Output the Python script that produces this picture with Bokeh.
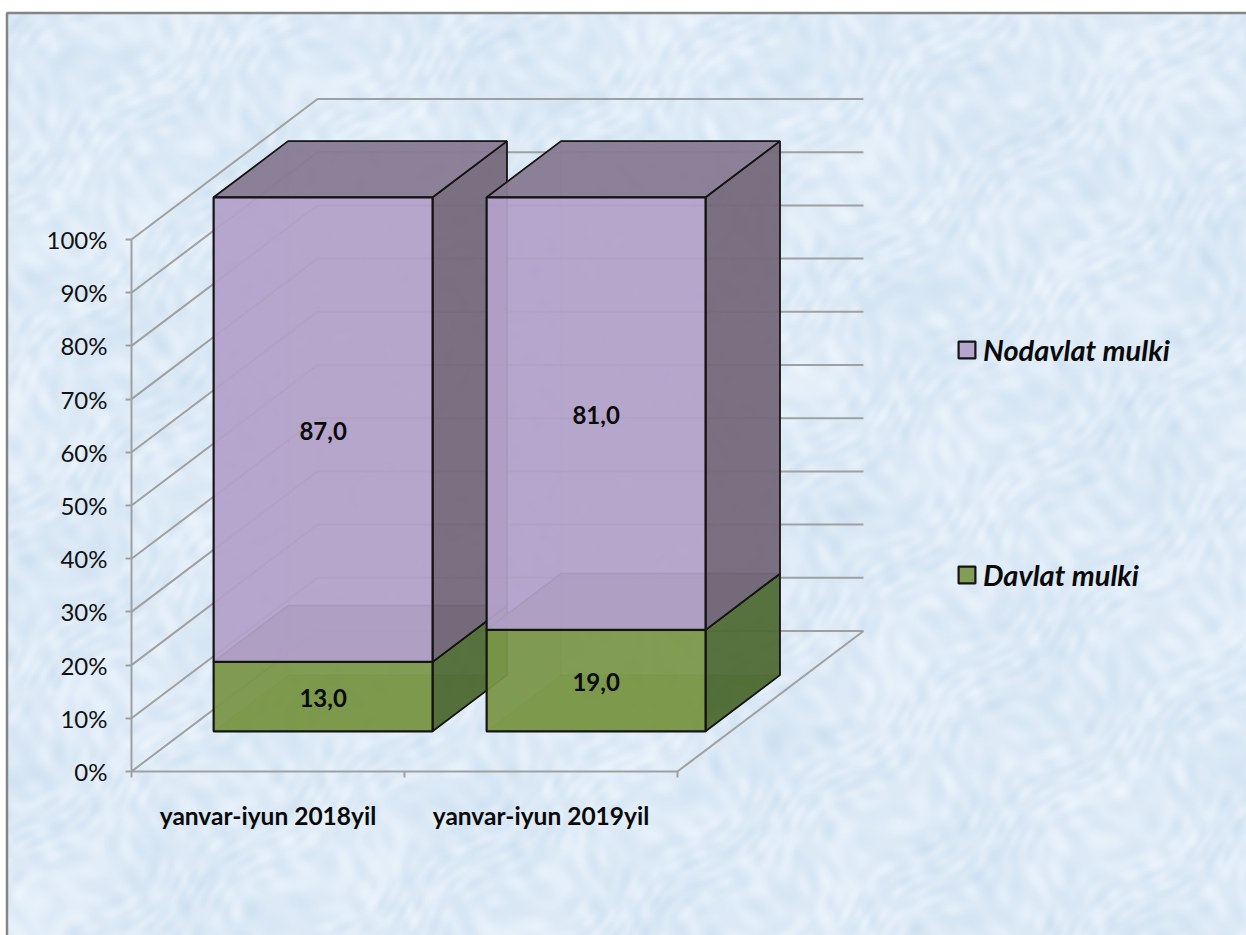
import numpy as np
from bokeh.plotting import figure
from bokeh.embed import file_html
from bokeh.resources import INLINE
from bokeh.core.properties import value
from bokeh.models import (LinearAxis, FixedTicker, PrintfTickFormatter, Range1d,
                          Legend, LegendItem)

# ---- data ----
categories = ["yanvar-iyun 2018yil", "yanvar-iyun 2019yil"]
davlat = [13.0, 19.0]
nodavlat = [87.0, 81.0]
series_names = ["Davlat mulki", "Nodavlat mulki"]
pct_ticks = list(range(0, 101, 10))

# ---- geometry of the 3-D look, in data units ----
W, H = 1246, 935
PX_CAT, PX_PCT = 273.0, 5.32          # pixels per category / per percent
X0, Y0 = 131.0, 771.0                 # origin inside the figure
DX, DY = 186.0 / PX_CAT, 140.5 / PX_PCT   # shift for the whole floor depth
BAR_OFF, BAR_W = 0.106, 0.802
D0, D1 = 0.286, 0.686
BAR_SCALE = 5.34 / PX_PCT

GRID = "#a0a0a0"
EDGE = "#141414"

def proj(c, v, d):
    return c + d * DX, v + d * DY

xr = Range1d(-X0 / PX_CAT, (W - X0) / PX_CAT)
yr = Range1d(-(H - Y0) / PX_PCT, Y0 / PX_PCT)
p = figure(width=W, height=H, x_range=xr, y_range=yr, x_axis_type=None, y_axis_type=None,
           toolbar_location=None, output_backend="svg", min_border=0,
           border_fill_color="white", outline_line_color=None)
p.grid.visible = False

# ---- paper background with a faint mottled texture ----
top = yr.end - 12.5 / PX_PCT
left = xr.start + 6.5 / PX_CAT
ny, nx = 460, 620
yy, xx = np.mgrid[0:ny, 0:nx].astype(float)
waves = [(0.31, 0.17, 0.3), (-0.22, 0.29, 1.1), (0.41, -0.13, 2.3), (0.11, 0.47, 0.7),
         (-0.37, -0.31, 4.1), (0.53, 0.23, 5.2), (0.07, -0.19, 1.9), (-0.13, 0.09, 3.3),
         (0.03, 0.05, 0.9), (-0.05, 0.02, 2.7), (0.61, -0.37, 3.7), (-0.47, 0.59, 0.2)]
warp = 5 * np.sin(xx / 17 + yy / 23) + 4 * np.sin(yy / 13 - xx / 19)
t = sum(np.sin(a * (xx + warp) + b * (yy - warp) + c) for a, b, c in waves)
t = t / np.abs(t).max()
img = np.zeros((ny, nx, 4), dtype=np.uint8)
img[..., 0] = np.clip(222 + 16 * t, 0, 255)
img[..., 1] = np.clip(235 + 11 * t, 0, 255)
img[..., 2] = np.clip(247 + 6 * t, 0, 255)
img[..., 3] = 255
rgba = img[..., 0].astype(np.uint32) | img[..., 1].astype(np.uint32) << 8 | \
       img[..., 2].astype(np.uint32) << 16 | img[..., 3].astype(np.uint32) << 24
p.image_rgba(image=[rgba], x=left, y=yr.start, dw=xr.end - left, dh=top - yr.start)
p.line([left, left, xr.end], [yr.start, top, top], line_color="#858585", line_width=2.5)

# ---- walls and floor ----
xs, ys = [], []
for v in pct_ticks:
    a, b, c = proj(0, v, 0), proj(0, v, 1), proj(2, v, 1)
    xs.append([a[0], b[0], c[0]]); ys.append([a[1], b[1], c[1]])
f1, f2 = proj(2, 0, 0), proj(2, 0, 1)
xs.append([f1[0], f2[0]]); ys.append([f1[1], f2[1]])
p.multi_line(xs, ys, line_color=GRID, line_width=2)

# ---- bars ----
def face(pts, fill, alpha, line=None, lw=1.6, line_alpha=1.0):
    px = [q[0] for q in pts]; py = [q[1] for q in pts]
    return p.patch(px, py, fill_color=fill, fill_alpha=alpha,
                   line_color=line if line else None, line_width=lw, line_alpha=line_alpha)

def box(c, lo, hi, front, side, topc, under):
    x0, x1 = c + BAR_OFF, c + BAR_OFF + BAR_W
    v0, v1 = lo * BAR_SCALE, hi * BAR_SCALE
    P = proj
    # hidden faces: back, left, bottom, seen through the front
    face([P(x0, v0, D1), P(x1, v0, D1), P(x1, v1, D1), P(x0, v1, D1)], front, 0.10, "#3a3044", 1.2, 0.16)
    face([P(x0, v0, D0), P(x0, v0, D1), P(x0, v1, D1), P(x0, v1, D0)], front, 0.25)
    face([P(x0, v0, D0), P(x1, v0, D0), P(x1, v0, D1), P(x0, v0, D1)], under, 0.55, "#3a3044", 1.2, 0.16)
    # visible faces
    face([P(x1, v0, D0), P(x1, v0, D1), P(x1, v1, D1), P(x1, v1, D0)], side, 0.94, EDGE, 1.8)
    face([P(x0, v1, D0), P(x1, v1, D0), P(x1, v1, D1), P(x0, v1, D1)], topc, 0.94, EDGE, 1.8)
    return face([P(x0, v0, D0), P(x1, v0, D0), P(x1, v1, D0), P(x0, v1, D0)], front, 0.92, EDGE, 2.2)

legend_r = {}
for i in range(len(categories)):
    g = box(i, 0, davlat[i], "#7a9646", "#4f6a33", "#5d7a3a", "#6f8e3c")
    r = box(i, davlat[i], davlat[i] + nodavlat[i], "#b3a1c9", "#746879", "#877a93", "#9c8caf")
    legend_r.setdefault(series_names[0], g)
    legend_r.setdefault(series_names[1], r)

# ---- value labels ----
lx, ly, lt = [], [], []
for i in range(len(categories)):
    cx = i + BAR_OFF + BAR_W / 2
    for lo, val in ((0, davlat[i]), (davlat[i], nodavlat[i])):
        q = proj(cx, (lo + val / 2) * BAR_SCALE, D0)
        lx.append(q[0]); ly.append(q[1]); lt.append(f"{val:.1f}".replace(".", ","))
p.text(lx, ly, text=lt, text_font=value("Lato"), text_font_style="bold", text_font_size="24px",
       text_align="center", text_baseline="middle", text_color="#0a0a0a", y_offset=1)

# ---- axes ----
ya = LinearAxis(fixed_location=0, bounds=(0, 100), ticker=FixedTicker(ticks=pct_ticks),
                formatter=PrintfTickFormatter(format="%d%%"))
ya.axis_line_color = GRID; ya.axis_line_width = 2
ya.major_tick_line_color = GRID; ya.major_tick_line_width = 2
ya.major_tick_out = 6; ya.major_tick_in = 0; ya.minor_tick_line_color = None
ya.major_label_text_font = "Lato"; ya.major_label_text_font_size = "24px"
ya.major_label_text_color = "#111111"; ya.major_label_standoff = 18
p.add_layout(ya, "left")

# one axis: minor ticks mark the category boundaries, labels sit at the category centres
xb = LinearAxis(fixed_location=0, bounds=(0, 2),
                ticker=FixedTicker(ticks=[0.5, 1.5], minor_ticks=[0, 1, 2]),
                major_label_overrides={0.5: categories[0], 1.5: categories[1]})
xb.axis_line_color = GRID; xb.axis_line_width = 2
xb.major_tick_line_color = None
xb.minor_tick_line_color = GRID; xb.minor_tick_line_width = 2
xb.minor_tick_out = 6; xb.minor_tick_in = 0
xb.major_label_text_font = "Lato"; xb.major_label_text_font_style = "bold"
xb.major_label_text_font_size = "24.5px"; xb.major_label_text_color = "#0a0a0a"
xb.major_label_standoff = 23
p.add_layout(xb, "below")

# ---- legend ----
lg = Legend(items=[LegendItem(label=series_names[1], renderers=[legend_r[series_names[1]]]),
                   LegendItem(label=series_names[0], renderers=[legend_r[series_names[0]]])],
            location=(956, 343), orientation="vertical", spacing=190,
            background_fill_alpha=0, border_line_color=None, padding=0, margin=0,
            glyph_width=21, glyph_height=21, label_standoff=6,
            label_text_font="Lato", label_text_font_style="bold italic",
            label_text_font_size="29px", label_text_color="#0a0a0a", label_height=25)
p.add_layout(lg, "center")

open("out.html", "w").write(file_html(p, INLINE))
